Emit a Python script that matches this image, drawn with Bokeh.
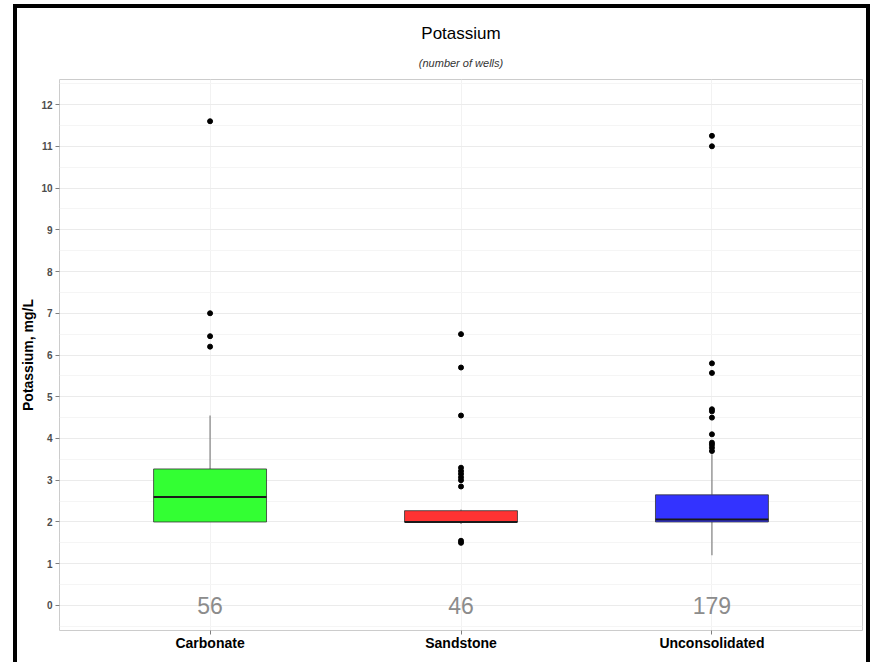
from bokeh.plotting import figure
from bokeh.layouts import row, column
from bokeh.models import Range1d, FixedTicker, Title, ColumnDataSource, Div
from bokeh.core.properties import value
from bokeh.embed import file_html
from bokeh.resources import INLINE

# ---- data ----
categories = ["Carbonate", "Sandstone", "Unconsolidated"]
counts = [56, 46, 179]
q1 = [2.0, 2.0, 2.0]
median = [2.6, 2.0, 2.06]
q3 = [3.27, 2.27, 2.65]
whisker_low = [2.0, 1.95, 1.2]
whisker_high = [4.55, 2.3, 3.62]
outliers_carbonate = [11.6, 7.0, 6.45, 6.2]
outliers_sandstone = [6.5, 5.7, 4.55, 3.3, 3.22, 3.15, 3.07, 3.0, 2.85, 1.55, 1.5]
outliers_unconsolidated = [11.25, 11.0, 5.8, 5.57, 4.7, 4.65, 4.5, 4.1, 3.9, 3.85, 3.78, 3.7]
fill_colors = ["#33FF33", "#FF3333", "#3333FF"]
y_ticks = list(range(0, 13))

FONT = "'Liberation Sans Narrow', 'Liberation Sans', Arial, sans-serif"

xs = [i + 1 for i in range(len(categories))]
half = 0.225

box_src = ColumnDataSource(dict(
    x=xs, q1=q1, q3=q3, med=median, lo=whisker_low, hi=whisker_high,
    color=fill_colors,
    x0=[x - half for x in xs], x1=[x + half for x in xs],
    label=[str(c) for c in counts], zero=[0] * len(xs),
))

out_x, out_y = [], []
for i, vals in enumerate([outliers_carbonate, outliers_sandstone, outliers_unconsolidated]):
    out_x += [xs[i]] * len(vals)
    out_y += vals

PW, PH = 849, 654
p = figure(width=PW, height=PH, output_backend="svg", toolbar_location=None,
           x_range=Range1d(0.4, 3.6), y_range=Range1d(-0.6, 12.6),
           min_border_left=42, min_border_right=4, min_border_top=71, min_border_bottom=32,
           margin=0)

p.background_fill_color = "white"
p.border_fill_color = "white"
p.outline_line_color = "#cccccc"
p.outline_line_width = 1

# grids
p.ygrid.ticker = FixedTicker(ticks=y_ticks, minor_ticks=[t + 0.5 for t in range(-1, 13)])
p.ygrid.grid_line_color = "#ebebeb"
p.ygrid.minor_grid_line_color = "#f5f5f5"
p.xgrid.ticker = FixedTicker(ticks=xs)
p.xgrid.grid_line_color = "#f2f2f2"

# whiskers
p.segment(x0="x", y0="q3", x1="x", y1="hi", source=box_src, line_color="#808080", line_width=1.2)
p.segment(x0="x", y0="lo", x1="x", y1="q1", source=box_src, line_color="#808080", line_width=1.2)
# boxes
p.vbar(x="x", width=2 * half, bottom="q1", top="q3", source=box_src,
       fill_color="color", line_color="#333333", line_width=1, line_alpha=0.8)
# medians
p.segment(x0="x0", y0="med", x1="x1", y1="med", source=box_src, line_color="#1a1a1a", line_width=2)
# outliers
p.scatter(out_x, out_y, size=5, color="black")
# counts
p.text(x="x", y="zero", text="label", source=box_src, text_align="center",
       text_baseline="middle", text_color="#8c8c8c", text_font_size="23px",
       text_font=value(FONT))

# axes
p.yaxis.ticker = FixedTicker(ticks=y_ticks)
p.yaxis.axis_label = "Potassium, mg/L"
p.yaxis.axis_label_text_font = FONT
p.yaxis.axis_label_text_font_size = "14px"
p.yaxis.axis_label_text_font_style = "bold"
p.yaxis.axis_label_text_color = "black"
p.yaxis.axis_label_standoff = 2
p.yaxis.major_label_text_font = FONT
p.yaxis.major_label_text_font_size = "10px"
p.yaxis.major_label_text_font_style = "bold"
p.yaxis.major_label_text_color = "#4d4d4d"
p.yaxis.major_label_standoff = 3

p.xaxis.ticker = FixedTicker(ticks=xs)
p.xaxis.major_label_overrides = {x: c for x, c in zip(xs, categories)}
p.xaxis.major_label_text_font = FONT
p.xaxis.major_label_text_font_size = "14px"
p.xaxis.major_label_text_font_style = "bold"
p.xaxis.major_label_text_color = "black"
p.xaxis.major_label_standoff = 0

for ax in (p.xaxis, p.yaxis):
    ax.axis_line_color = None
    ax.major_tick_in = 0
    ax.major_tick_out = 4
    ax.major_tick_line_color = "#7f7f7f"
    ax.minor_tick_line_color = None

p.add_layout(Title(text="(number of wells)", align="center", text_font_style="italic",
                   text_font_size="11px", text_font=FONT, text_color="#333333",
                   vertical_align="top", standoff=18), "above")
p.add_layout(Title(text="Potassium", align="center", text_font_style="normal",
                   text_font_size="17px", text_font=FONT, text_color="black",
                   vertical_align="top", standoff=5), "above")

BLACK = {"background-color": "black"}
WHITE = {"background-color": "white"}
spacer_l = Div(width=13, height=PH + 8, styles=WHITE, margin=0)
spacer_t = Div(width=PW + 8, height=4, styles=WHITE, margin=0)
bar_top = Div(width=PW + 8, height=4, styles=BLACK, margin=0)
bar_l = Div(width=4, height=PH, styles=BLACK, margin=0)
bar_r = Div(width=4, height=PH, styles=BLACK, margin=0)
inner = column(spacer_t, bar_top, row(bar_l, p, bar_r, spacing=0, margin=0), spacing=0, margin=0)
layout = row(spacer_l, inner, spacing=0, margin=0)

open("out.html", "w").write(file_html(layout, INLINE))
